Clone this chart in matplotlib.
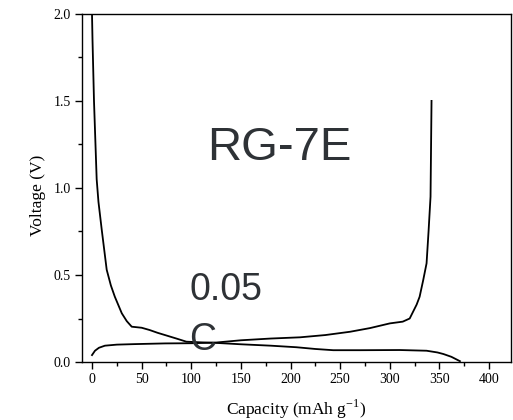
import numpy as np
import matplotlib
matplotlib.use('Agg')
import matplotlib.pyplot as plt
from matplotlib.ticker import MultipleLocator

# first discharge curve (capacity in mAh/g, voltage in V)
dis_cap = [0, 0.5, 2, 3.5, 4.7, 6.5, 9.8, 14.8, 19, 23, 30, 35, 40, 50, 58, 66, 73.5, 85, 95, 110, 125, 150, 180, 206, 225, 243, 270, 310, 337, 348, 354, 362, 370.6]
dis_v = [2.0, 1.85, 1.5, 1.25, 1.05, 0.92, 0.76, 0.53, 0.44, 0.375, 0.28, 0.235, 0.203, 0.197, 0.184, 0.168, 0.155, 0.135, 0.117, 0.113, 0.110, 0.102, 0.094, 0.085, 0.075, 0.068, 0.068, 0.069, 0.065, 0.055, 0.046, 0.03, 0.005]

# first charge curve
chg_cap = [0, 3, 7, 13, 25, 43, 73.5, 100, 125, 150, 180, 209.5, 235, 260, 280, 300, 313, 320, 327, 330, 333.6, 337, 339, 341, 342]
chg_v = [0.04, 0.065, 0.082, 0.094, 0.1, 0.103, 0.107, 0.108, 0.112, 0.125, 0.135, 0.142, 0.155, 0.174, 0.195, 0.222, 0.232, 0.25, 0.33, 0.375, 0.47, 0.567, 0.75, 0.95, 1.5]

fig = plt.figure(figsize=(5.13, 4.20), dpi=100)
ax = fig.add_axes([0.160, 0.138, 0.836, 0.829])

ax.plot(dis_cap, dis_v, color='black', lw=1.3)
ax.plot(chg_cap, chg_v, color='black', lw=1.3)

ax.set_xlim(-10, 422)
ax.set_ylim(0, 2.0)
ax.xaxis.set_major_locator(MultipleLocator(50))
ax.xaxis.set_minor_locator(MultipleLocator(25))
ax.yaxis.set_major_locator(MultipleLocator(0.5))
ax.yaxis.set_minor_locator(MultipleLocator(0.25))
ax.set_yticks([0, 0.5, 1.0, 1.5, 2.0])
ax.set_yticklabels(['0.0', '0.5', '1.0', '1.5', '2.0'])

serif = 'Liberation Serif'
ax.tick_params(which='major', direction='out', length=5, width=1, labelsize=10, pad=3)
ax.tick_params(which='minor', direction='out', length=3, width=1)
for lab in ax.get_xticklabels() + ax.get_yticklabels():
    lab.set_family(serif)
for s in ax.spines.values():
    s.set_linewidth(1)

ax.set_xlabel('Capacity (mAh g$^{\\mathregular{-1}}$)', family=serif, fontsize=12.5, labelpad=8)
ax.set_ylabel('Voltage (V)', family=serif, fontsize=12.5)
ax.yaxis.set_label_coords(-0.085, 0.48)

ax.text(116, 1.23, 'RG-7E', family='Liberation Sans', fontsize=34, color='#2e3236',
        ha='left', va='center')
ax.text(98, 0.022, '0.05\nC', family='Liberation Sans', fontsize=27, color='#2e3236',
        ha='left', va='bottom', linespacing=1.5)

fig.savefig('out.png', dpi=100)
